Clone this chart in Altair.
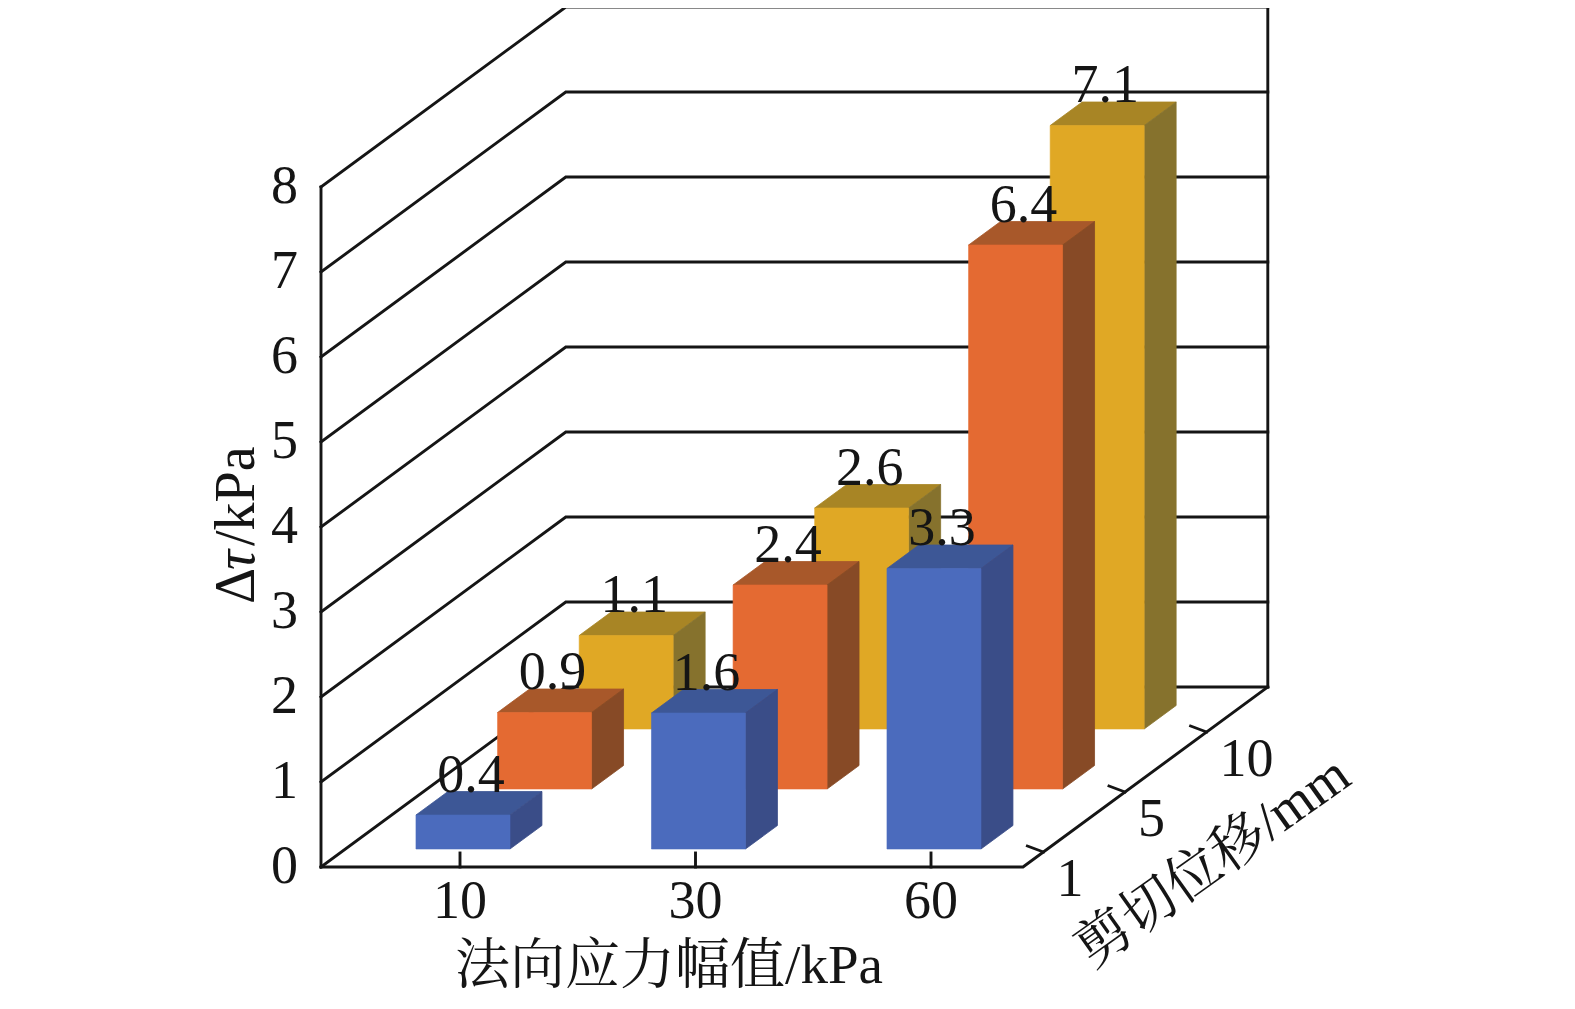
import altair as alt
import pandas as pd

# ---------------- data ----------------
categories = ["10", "30", "60"]          # 法向应力幅值/kPa
series = ["1", "5", "10"]                # 剪切位移/mm (front -> back)
values_1mm = [0.4, 1.6, 3.3]
values_5mm = [0.9, 2.4, 6.4]
values_10mm = [1.1, 2.6, 7.1]
y_ticks = [0, 1, 2, 3, 4, 5, 6, 7, 8]
series_values = [values_1mm, values_5mm, values_10mm]

# ---------------- projection geometry ----------------
X0, Y0 = 321, 867        # front-left floor corner
KV = 85                  # px per kPa
FLOOR_W = 702
DEPTH = 180
SLANT = 1.36             # horizontal shift per unit depth
CAT_STEP = 235.5
BAR_H0 = 70.5
BAR_W = 94
ROW_D0, ROW_STEP, BAR_D = 18, 60, 23.5
TICK_H0 = 139
DTICK_D0 = 15

FONT = "Liberation Serif, Noto Serif CJK SC, Noto Sans CJK SC"
FS = 54
INK = "#151515"

face_colors = {
    "1": ("#4b6bbd", "#3d5796", "#3a4d88"),
    "5": ("#e46a32", "#a8582a", "#874a26"),
    "10": ("#e0a825", "#a88525", "#86722d"),
}

W, H = 1559, 993


def proj(h, v, d):
    return X0 + h + d * SLANT, Y0 - v * KV - d


XS = alt.Scale(domain=[8, 8 + W], nice=False, zero=False)
YS = alt.Scale(domain=[8, 8 + H], nice=False, zero=False, reverse=True)


def X(f="x"):
    return alt.X(f"{f}:Q", scale=XS, axis=None)


def Y(f="y"):
    return alt.Y(f"{f}:Q", scale=YS, axis=None)


# ---------------- frame lines ----------------
rows = []


def add_line(gid, pts):
    for i, (x, y) in enumerate(pts):
        rows.append(dict(gid=gid, seq=i, x=x, y=y))


for v in y_ticks:
    add_line(f"g{v}", [proj(0, v, 0), proj(0, v, DEPTH), proj(FLOOR_W, v, DEPTH)])
add_line("left", [proj(0, 0, 0), proj(0, y_ticks[-1], 0)])
add_line("right", [proj(FLOOR_W, 0, DEPTH), proj(FLOOR_W, y_ticks[-1], DEPTH)])
add_line("floor", [proj(0, 0, 0), proj(FLOOR_W, 0, 0), proj(FLOOR_W, 0, DEPTH)])
for i, c in enumerate(categories):
    h = TICK_H0 + CAT_STEP * i
    add_line(f"xt{i}", [proj(h, 0, 0), proj(h, 14 / KV, 0)])
dtick_pos = []
for k, s in enumerate(series):
    d = DTICK_D0 + ROW_STEP * k
    px, py = proj(FLOOR_W, 0, d)
    dtick_pos.append((px, py))
    add_line(f"dt{k}", [(px - 16, py - 6), (px, py)])
lines_df = pd.DataFrame(rows)

frame = alt.Chart(lines_df).mark_line(
    color=INK, strokeWidth=2.9, strokeJoin="miter", strokeCap="square"
).encode(x=X(), y=Y(), detail="gid:N", order="seq:Q")

# ---------------- bars ----------------
layers = [frame]
labels = []
for k in reversed(range(len(series))):
    s = series[k]
    front_c, top_c, side_c = face_colors[s]
    fr, tp, sd = [], [], []
    d_f = ROW_D0 + ROW_STEP * k
    d_b = d_f + BAR_D
    for i, c in enumerate(categories):
        v = series_values[k][i]
        hl = BAR_H0 + CAT_STEP * i
        hr = hl + BAR_W
        xl, yt = proj(hl, v, d_f)
        xr, yb = proj(hr, 0, d_f)
        fr.append(dict(cat=c, x=xl, x2=xr, y=yt, y2=yb))
        xlb, ytb = proj(hl, v, d_b)
        xrb, ybb = proj(hr, 0, d_b)
        tp.append(dict(cat=c, y=yt, x=xl, x2=xr))
        tp.append(dict(cat=c, y=ytb, x=xlb, x2=xrb))
        sd.append(dict(cat=c, x=xr, y=yt, y2=yb))
        sd.append(dict(cat=c, x=xrb, y=ytb, y2=ybb))
        xc, _ = proj((hl + hr) / 2, v, d_f)
        labels.append(dict(x=xc + 8, y=ytb, t=f"{v:.1f}"))
    top = alt.Chart(pd.DataFrame(tp)).mark_area(
        orient="horizontal", color=top_c, stroke=top_c, strokeWidth=0.8
    ).encode(y=Y(), x=X(), x2="x2:Q", detail="cat:N")
    side = alt.Chart(pd.DataFrame(sd)).mark_area(
        orient="vertical", color=side_c, stroke=side_c, strokeWidth=0.8
    ).encode(x=X(), y=Y(), y2="y2:Q", detail="cat:N")
    front = alt.Chart(pd.DataFrame(fr)).mark_rect(
        color=front_c, stroke=front_c, strokeWidth=0.6
    ).encode(x=X(), x2="x2:Q", y=Y(), y2="y2:Q")
    layers += [top, side, front]

# ---------------- texts ----------------
def text_layer(df, **kw):
    base = dict(font=FONT, fontSize=FS, color=INK)
    base.update(kw)
    return alt.Chart(df).mark_text(**base).encode(x=X(), y=Y(), text="t:N")


val_df = pd.DataFrame(labels)
layers.append(text_layer(val_df, align="center", baseline="alphabetic"))

ytick_df = pd.DataFrame(
    [dict(x=X0 - 23, y=proj(0, v, 0)[1], t=str(v)) for v in y_ticks]
)
layers.append(text_layer(ytick_df, align="right", baseline="middle"))

xtick_df = pd.DataFrame(
    [dict(x=proj(TICK_H0 + CAT_STEP * i, 0, 0)[0], y=Y0 + 35, t=c)
     for i, c in enumerate(categories)]
)
layers.append(text_layer(xtick_df, align="center", baseline="middle"))

dlab_df = pd.DataFrame(
    [dict(x=px + 13, y=py + 28, t=s) for (px, py), s in zip(dtick_pos, series)]
)
layers.append(text_layer(dlab_df, align="left", baseline="middle"))

xtitle_df = pd.DataFrame([dict(x=669, y=Y0 + 99, t="法向应力幅值/kPa")])
layers.append(text_layer(xtitle_df, align="center", baseline="middle", fontSize=55))

ztitle_df = pd.DataFrame([dict(x=1213, y=862, t="剪切位移/mm")])
layers.append(text_layer(ztitle_df, align="center", baseline="middle", angle=324.5, fontSize=55))

yt1 = pd.DataFrame([dict(x=254, y=604, t="Δ")])
yt2 = pd.DataFrame([dict(x=254, y=570, t="τ")])
yt3 = pd.DataFrame([dict(x=254, y=546, t="/kPa")])
layers.append(text_layer(yt1, align="left", baseline="alphabetic", angle=270, fontSize=56))
layers.append(text_layer(yt2, align="left", baseline="alphabetic", angle=270, fontSize=56, fontStyle="italic"))
layers.append(text_layer(yt3, align="left", baseline="alphabetic", angle=270, fontSize=56))

chart = (
    alt.layer(*layers)
    .properties(width=W, height=H, padding=0,
                autosize=alt.AutoSizeParams(type="none"), background="white")
    .configure_view(strokeWidth=0, stroke="transparent")
)

chart.save("out.html", embed_options={"renderer": "svg", "actions": False})
